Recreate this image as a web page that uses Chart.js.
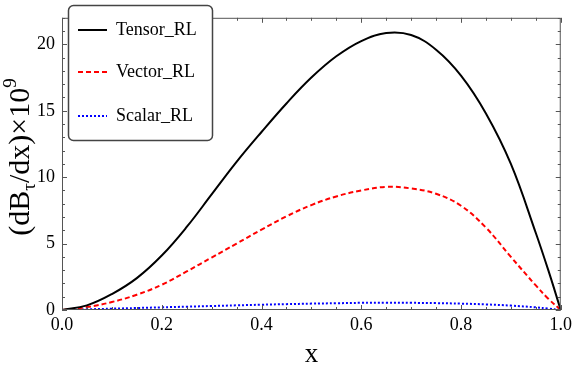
<!DOCTYPE html>
<html>
<head>
<meta charset="utf-8">
<script src="https://cdn.jsdelivr.net/npm/chart.js@4/dist/chart.umd.min.js"></script>
<style>
  html, body { margin: 0; padding: 0; background: #fff; }
  #wrap { width: 576px; height: 371px; }
</style>
</head>
<body>
<div id="wrap"><canvas id="c"></canvas></div>
<script>
// x positions and curve values
const X_VALUES = [0, 0.05, 0.1, 0.15, 0.2, 0.25, 0.3, 0.35, 0.4, 0.45, 0.5, 0.55, 0.6, 0.65, 0.7, 0.75, 0.8, 0.85, 0.9, 0.95, 0.975, 1.0];
const TENSOR = [0, 0.35, 1.2, 2.4, 4.1, 6.25, 8.7, 11.15, 13.4, 15.55, 17.5, 19.1, 20.25, 20.85, 20.7, 19.6, 17.65, 14.8, 11.0, 5.8, 3.0, 0];
const VECTOR = [0, 0.22, 0.6, 1.15, 1.9, 2.9, 3.95, 5.0, 6.05, 7.05, 7.9, 8.55, 9.0, 9.27, 9.15, 8.75, 7.85, 6.2, 4.0, 1.85, 0.85, 0];
const SCALAR = [0, 0.05, 0.1, 0.15, 0.2, 0.25, 0.3, 0.35, 0.4, 0.44, 0.48, 0.51, 0.54, 0.55, 0.54, 0.52, 0.48, 0.42, 0.33, 0.2, 0.11, 0];
const SERIES_NAMES = ['Tensor_RL', 'Vector_RL', 'Scalar_RL'];

const X_TICKS = [0, 0.2, 0.4, 0.6, 0.8, 1.0];
const Y_TICKS = [0, 5, 10, 15, 20];
const X_MINOR = 0.05;
const Y_MINOR = 1;
const X_MAX = 1.0;
const Y_MAX = 22;

const SERIF = '"Liberation Serif", "DejaVu Serif", serif';
const FRAME = '#555';

const pts = (ys) => X_VALUES.map((x, i) => ({ x, y: ys[i] }));

const datasets = [
  { label: SERIES_NAMES[0], data: pts(TENSOR), borderColor: '#000', borderWidth: 2, borderDash: [] },
  { label: SERIES_NAMES[1], data: pts(VECTOR), borderColor: '#ff0000', borderWidth: 2, borderDash: [5, 3] },
  { label: SERIES_NAMES[2], data: pts(SCALAR), borderColor: '#0000ff', borderWidth: 2, borderDash: [2, 2] },
].map((d) => Object.assign(d, { pointRadius: 0, fill: false, tension: 0.4 }));

// frame, inward ticks, titles and legend box
const decor = {
  id: 'decor',
  afterDraw(chart) {
    const ctx = chart.ctx;
    const a = chart.chartArea;
    const xs = chart.scales.x, ys = chart.scales.y;
    ctx.save();
    ctx.strokeStyle = FRAME;
    ctx.lineWidth = 1;
    ctx.strokeRect(a.left + 0.5, a.top + 0.5, a.right - a.left - 1, a.bottom - a.top - 1);

    ctx.beginPath();
    for (let i = 0; i <= Math.round(X_MAX / X_MINOR); i++) {
      const v = i * X_MINOR;
      const major = X_TICKS.some((t) => Math.abs(t - v) < 1e-9);
      const len = major ? 5 : 3;
      const px = Math.round(xs.getPixelForValue(v)) + 0.5;
      ctx.moveTo(px, a.bottom); ctx.lineTo(px, a.bottom - len);
      ctx.moveTo(px, a.top); ctx.lineTo(px, a.top + len);
    }
    for (let i = 0; i <= Math.round(Y_MAX / Y_MINOR); i++) {
      const v = i * Y_MINOR;
      const major = Y_TICKS.includes(v);
      const len = major ? 5 : 3;
      const py = Math.round(ys.getPixelForValue(v)) + 0.5;
      ctx.moveTo(a.left, py); ctx.lineTo(a.left + len, py);
      ctx.moveTo(a.right, py); ctx.lineTo(a.right - len, py);
    }
    ctx.stroke();

    // x title
    ctx.fillStyle = '#000';
    ctx.font = '27px ' + SERIF;
    ctx.textAlign = 'center';
    ctx.textBaseline = 'alphabetic';
    ctx.fillText('x', (a.left + a.right) / 2, 362);

    // y title with subscript and superscript
    const parts = [
      { t: '(dB', f: 30, dy: 0 },
      { t: 'τ', f: 19, dy: 6 },
      { t: '/dx)×10', f: 30, dy: 0 },
      { t: '9', f: 19, dy: -13 },
    ];
    let total = 0;
    parts.forEach((p) => { ctx.font = p.f + 'px ' + SERIF; p.w = ctx.measureText(p.t).width; total += p.w; });
    ctx.translate(29, 157);
    ctx.rotate(-Math.PI / 2);
    ctx.textAlign = 'left';
    let cx = -total / 2;
    parts.forEach((p) => {
      ctx.font = p.f + 'px ' + SERIF;
      ctx.fillText(p.t, cx, p.dy);
      cx += p.w;
    });
    ctx.setTransform(1, 0, 0, 1, 0, 0);

    // legend
    const bx = 68, by = 5, bw = 144, bh = 135;
    ctx.beginPath();
    ctx.roundRect(bx + 0.5, by + 0.5, bw, bh, 5);
    ctx.fillStyle = '#fff';
    ctx.fill();
    ctx.strokeStyle = '#444';
    ctx.lineWidth = 1.5;
    ctx.stroke();
    const rows = [30, 72, 116];
    chart.data.datasets.forEach((d, i) => {
      ctx.beginPath();
      ctx.setLineDash(d.borderDash);
      ctx.strokeStyle = d.borderColor;
      ctx.lineWidth = d.borderWidth;
      ctx.moveTo(78, rows[i]); ctx.lineTo(107, rows[i]);
      ctx.stroke();
      ctx.setLineDash([]);
      ctx.fillStyle = '#000';
      ctx.font = '18px ' + SERIF;
      ctx.textBaseline = 'middle';
      ctx.fillText(d.label, 116, rows[i]);
    });
    ctx.restore();
  },
};

new Chart(document.getElementById('c'), {
  type: 'line',
  data: { datasets },
  options: {
    responsive: true,
    maintainAspectRatio: false,
    animation: false,
    layout: { padding: { top: 1, right: 13, left: 0, bottom: 0 } },
    plugins: { legend: { display: false }, tooltip: { enabled: false } },
    scales: {
      x: {
        type: 'linear', min: 0, max: X_MAX,
        afterBuildTicks: (s) => { s.ticks = X_TICKS.map((v) => ({ value: v })); },
        afterFit: (s) => { s.height = 61; },
        grid: { display: false, drawTicks: false },
        border: { display: false },
        ticks: { color: '#000', font: { family: SERIF, size: 18 }, padding: 4, maxRotation: 0,
          callback: (v) => v.toFixed(1) },
      },
      y: {
        type: 'linear', min: 0, max: Y_MAX,
        afterBuildTicks: (s) => { s.ticks = Y_TICKS.map((v) => ({ value: v })); },
        afterFit: (s) => { s.width = 62; },
        grid: { display: false, drawTicks: false },
        border: { display: false },
        ticks: { color: '#000', font: { family: SERIF, size: 18 }, padding: 7 },
      },
    },
  },
  plugins: [decor],
});
</script>
</body>
</html>
